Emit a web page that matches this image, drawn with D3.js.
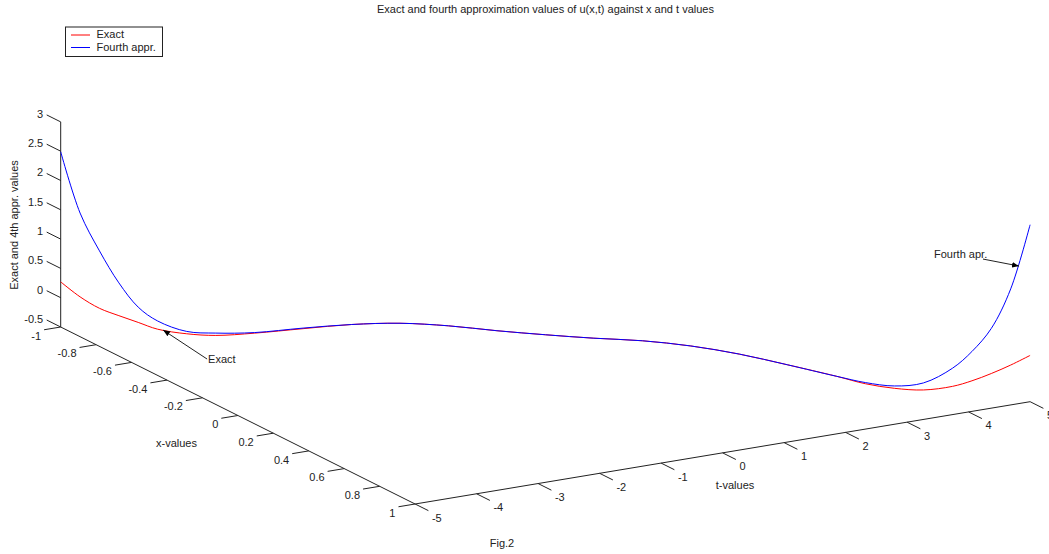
<!DOCTYPE html>
<html lang="en">
<head>
    <meta charset="UTF-8">
    <title>Exact and fourth approximation</title>
    <script src="https://d3js.org/d3.v7.min.js"></script>
    <style>
        body { margin: 0; background: #fff; }
        text { font-family: "Liberation Sans", Arial, sans-serif; font-size: 11px; fill: #222; }
    </style>
</head>
<body>
    <div id="graph-div"></div>
    <script>
        // data: curve runs along the diagonal x = t/5
        const tVals = [-5, -4.8, -4.6, -4.4, -4.2, -4, -3.7, -3.4, -3, -2.5, -2, -1.5, -1, -0.5, 0,
                       0.5, 1, 1.5, 2, 2.5, 3, 3.3, 3.6, 3.9, 4.2, 4.4, 4.6, 4.8, 5];
        const xVals = [-1, -0.96, -0.92, -0.88, -0.84, -0.8, -0.74, -0.68, -0.6, -0.5, -0.4, -0.3, -0.2, -0.1, 0,
                       0.1, 0.2, 0.3, 0.4, 0.5, 0.6, 0.66, 0.72, 0.78, 0.84, 0.88, 0.92, 0.96, 1];
        const exactVals = [0.27, 0.04, -0.13, -0.23, -0.32, -0.41, -0.45, -0.44, -0.35, -0.21, -0.075, 0.01, 0.03, 0.01, 0.005,
                           0.01, 0.03, 0.005, -0.07, -0.19, -0.32, -0.41, -0.45, -0.44, -0.34, -0.22, -0.07, 0.10, 0.29];
        const fourthVals = [2.49, 1.47, 0.85, 0.33, -0.06, -0.27, -0.41, -0.40, -0.34, -0.20, -0.075, 0.01, 0.03, 0.01, 0.005,
                            0.01, 0.03, 0.005, -0.07, -0.19, -0.32, -0.39, -0.41, -0.32, -0.03, 0.28, 0.70, 1.40, 2.52];

        const xTicks = [-1, -0.8, -0.6, -0.4, -0.2, 0, 0.2, 0.4, 0.6, 0.8, 1];
        const tTicks = [-5, -4, -3, -2, -1, 0, 1, 2, 3, 4, 5];
        const zTicks = [-0.5, 0, 0.5, 1, 1.5, 2, 2.5, 3];

        const w = 1049;
        const h = 554;

        // 3d view: origin corner (x=-1, t=-5, z=-0.5) and screen vectors of each full axis
        const O = [60.7, 327];
        const ex = [354.4, 177];
        const et = [615, -102.3];
        const ez = [0, -205.1];

        const xs = d3.scaleLinear().domain([-1, 1]).range([0, 1]);
        const ts = d3.scaleLinear().domain([-5, 5]).range([0, 1]);
        const zs = d3.scaleLinear().domain([-0.5, 3]).range([0, 1]);

        const proj = (x, t, z) => {
            let a = xs(x), b = ts(t), c = zs(z);
            return [O[0] + a * ex[0] + b * et[0] + c * ez[0],
                    O[1] + a * ex[1] + b * et[1] + c * ez[1]];
        };

        const svg = d3.select("#graph-div")
                      .append("svg")
                      .attr("width", w)
                      .attr("height", h);

        svg.append("rect").attr("width", w).attr("height", h).attr("fill", "#fff");

        const axisColor = "#222";
        const seg = (p, q) => svg.append("line")
            .attr("x1", p[0]).attr("y1", p[1])
            .attr("x2", q[0]).attr("y2", q[1])
            .attr("stroke", axisColor)
            .attr("stroke-width", 1);

        //axes
        // x axis at t=-5, ticks point towards -t
        seg(proj(-1, -5, -0.5), proj(1, -5, -0.5));
        xTicks.forEach(v => {
            let p = proj(v, -5, -0.5);
            let q = proj(v, -5.27, -0.5);
            seg(p, q);
            svg.append("text")
               .attr("x", q[0] - 3)
               .attr("y", q[1] + 7)
               .attr("text-anchor", "end")
               .attr("dominant-baseline", "middle")
               .text(v);
        });

        // t axis at x=1, ticks point towards +x
        seg(proj(1, -5, -0.5), proj(1, 5, -0.5));
        tTicks.forEach(v => {
            let p = proj(1, v, -0.5);
            let q = proj(1.075, v, -0.5);
            seg(p, q);
            svg.append("text")
               .attr("x", q[0] + 3.5)
               .attr("y", q[1] + 8)
               .attr("text-anchor", "start")
               .attr("dominant-baseline", "middle")
               .text(v);
        });

        // z axis at x=-1, t=-5, ticks point towards -x
        seg(proj(-1, -5, -0.5), proj(-1, -5, 3));
        zTicks.forEach(v => {
            let p = proj(-1, -5, v);
            let q = proj(-1.079, -5, v);
            seg(p, q);
            svg.append("text")
               .attr("x", q[0] - 3.5)
               .attr("y", q[1])
               .attr("text-anchor", "end")
               .attr("dominant-baseline", "middle")
               .text(v);
        });

        // axis labels
        svg.append("text").text("x-values")
           .attr("x", 176.5).attr("y", 444.5)
           .attr("text-anchor", "middle").attr("dominant-baseline", "middle");
        svg.append("text").text("t-values")
           .attr("x", 735).attr("y", 486)
           .attr("text-anchor", "middle").attr("dominant-baseline", "middle");
        svg.append("text").text("Exact and 4th appr. values")
           .attr("transform", "translate(15,225) rotate(-90)")
           .attr("text-anchor", "middle").attr("dominant-baseline", "middle");
        svg.append("text").text("Exact and fourth approximation values of u(x,t) against x and t values")
           .attr("x", 545.5).attr("y", 10)
           .attr("text-anchor", "middle").attr("dominant-baseline", "middle");
        svg.append("text").text("Fig.2")
           .attr("x", 502).attr("y", 544.5)
           .attr("text-anchor", "middle").attr("dominant-baseline", "middle");

        //lines
        const line = d3.line()
            .x(d => d[0])
            .y(d => d[1])
            .curve(d3.curveCatmullRom.alpha(0.5));

        const series = [
            {name: "Exact", vals: exactVals, color: "#ff0000"},
            {name: "Fourth appr.", vals: fourthVals, color: "#0000ff"}
        ];

        series.forEach(s => {
            let pts = tVals.map((t, i) => proj(xVals[i], t, s.vals[i]));
            svg.append("path")
               .attr("d", line(pts))
               .attr("fill", "none")
               .attr("stroke", s.color)
               .attr("stroke-width", 1);
        });

        //annotations
        svg.append("defs").append("marker")
           .attr("id", "arrow")
           .attr("viewBox", "0 0 10 10")
           .attr("refX", 10).attr("refY", 5)
           .attr("markerWidth", 7).attr("markerHeight", 7)
           .attr("markerUnits", "userSpaceOnUse")
           .attr("orient", "auto")
           .append("path")
           .attr("d", "M0,1 L10,5 L0,9 Z")
           .attr("fill", "#000");

        // tip on the curve (x, t, z), tail and text offsets in pixels from the tip
        const annotations = [
            {label: "Exact", x: -0.79, t: -3.94, z: -0.42, dx: 44, dy: 29, tx: 45, ty: 30},
            {label: "Fourth apr.", x: 0.977, t: 4.886, z: 1.8, dx: -36, dy: -7, tx: -85, ty: -11}
        ];

        annotations.forEach(a => {
            let tip = proj(a.x, a.t, a.z);
            svg.append("line")
               .attr("x1", tip[0] + a.dx).attr("y1", tip[1] + a.dy)
               .attr("x2", tip[0]).attr("y2", tip[1])
               .attr("stroke", "#222")
               .attr("stroke-width", 1)
               .attr("marker-end", "url(#arrow)");
            svg.append("text")
               .attr("x", tip[0] + a.tx)
               .attr("y", tip[1] + a.ty)
               .attr("dominant-baseline", "middle")
               .text(a.label);
        });

        //legend
        const legend = svg.append("g").attr("transform", "translate(65.5,27)");
        legend.append("rect")
              .attr("width", 97)
              .attr("height", 29.5)
              .attr("fill", "#fff")
              .attr("stroke", "#222")
              .attr("stroke-width", 1);
        series.forEach((s, i) => {
            legend.append("line")
                  .attr("x1", 5.5).attr("x2", 24.5)
                  .attr("y1", 8 + i * 12.5).attr("y2", 8 + i * 12.5)
                  .attr("stroke", s.color)
                  .attr("stroke-width", 1);
            legend.append("text")
                  .attr("x", 31)
                  .attr("y", 8.5 + i * 12.5)
                  .attr("dominant-baseline", "middle")
                  .text(s.name);
        });
    </script>
</body>
</html>
